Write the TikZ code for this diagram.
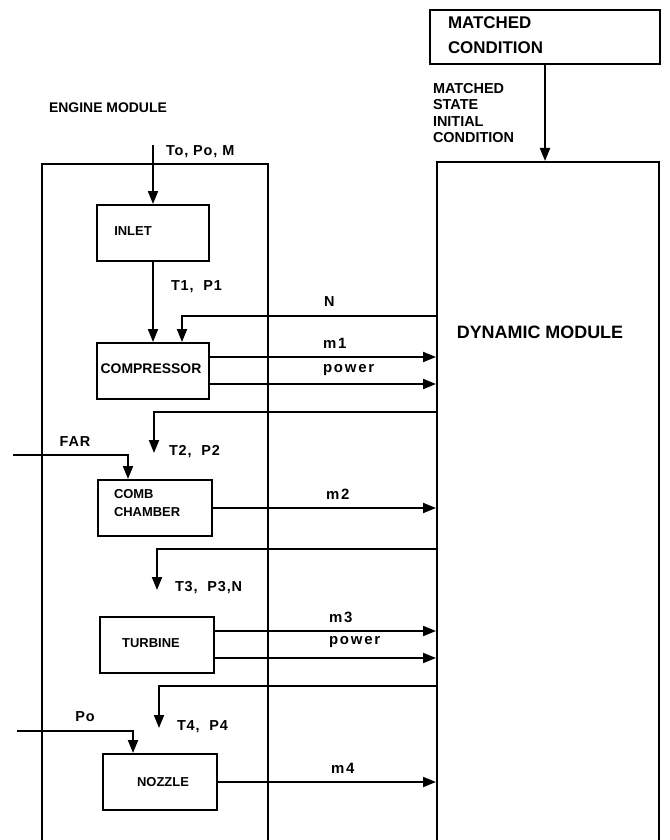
\documentclass[tikz,border=0pt]{standalone}
\usepackage{fontspec}
\setmainfont{Liberation Sans}
\newfontfamily\lblfont{Liberation Sans}[LetterSpace=6]
\newfontfamily\lowfont{Liberation Sans}[LetterSpace=12]
\usetikzlibrary{arrows.meta,calc}
\begin{document}
\begin{tikzpicture}[x=1bp,y=-1bp,
  line width=2bp,
  arr/.style={-{Triangle[length=13bp,width=10bp]}},
  blk/.style={draw,minimum width=114bp,minimum height=56bp,inner sep=0pt},
  btxt/.style={font=\bfseries\fontsize{13}{15}\selectfont,inner sep=0pt},
  lbl/.style={font=\lblfont\bfseries\fontsize{14.5}{17}\selectfont,inner sep=0pt,anchor=west},
  lowlbl/.style={font=\lowfont\bfseries\fontsize{15}{17}\selectfont,inner sep=0pt,anchor=west},
]
\useasboundingbox (0,0) rectangle (670,840);
\fill[white] (0,0) rectangle (670,840);

% big modules
\node[draw,minimum width=230bp,minimum height=54bp,inner sep=0pt] (mc) at (545,37) {};
\node[btxt,font=\bfseries\fontsize{17}{25}\selectfont,align=left,anchor=west] (mctxt) at (447,35) {MATCHED\\CONDITION};
\node[draw,minimum width=222bp,minimum height=688bp,inner sep=0pt] (dyn) at (548,506) {};
\node[btxt,font=\bfseries\fontsize{18}{20}\selectfont] (dyntxt) at (540,332) {DYNAMIC MODULE};
\node[btxt,align=left,anchor=west,font=\bfseries\fontsize{14.5}{16.3}\selectfont] (mstate) at (432,113) {MATCHED\\STATE\\INITIAL\\CONDITION};

\node[draw,minimum width=226bp,minimum height=686bp,inner sep=0pt] (eng) at (155,507) {};
\node[btxt,font=\bfseries\fontsize{14}{16}\selectfont] (engtxt) at (108,108) {ENGINE MODULE};

% component blocks
\node[blk,minimum width=112bp] (inlet) at (153,233) {};
\node[btxt] (inlettxt) at (133,231) {INLET};
\node[blk,minimum width=112bp] (comp) at (153,371) {};
\node[btxt,font=\bfseries\fontsize{14}{16}\selectfont] (comptxt) at (151,369) {COMPRESSOR};
\node[blk] (comb) at (155,508) {};
\node[btxt,align=left,anchor=west,font=\bfseries\fontsize{13}{19}\selectfont] (combtxt) at (113,503) {COMB\\CHAMBER};
\node[blk] (turb) at (157,645) {};
\node[btxt] (turbtxt) at (151,643) {TURBINE};
\node[blk] (noz) at (160,782) {};
\node[btxt] (noztxt) at (163,782) {NOZZLE};

% inlet flow
\coordinate (inflow) at (153,145);
\draw[arr] (inflow) -- (inlet.north);
\node[lbl] (l0) at (165,152) {To, Po, M};
\draw[arr] (inlet.south) -- (comp.north);
\node[lbl] (l1) at (170,287) {T1,~ P1};

% compressor
\coordinate (nin) at ([xshift=29bp]comp.north);
\coordinate (nrow) at (0,316);
\draw[arr] (nrow -| dyn.west) -| (nin);
\node[lbl] (lN) at (323,302) {N};
\coordinate (m1s) at ([yshift=14bp]comp.east);
\draw[arr] (m1s) -- (m1s -| dyn.west);
\node[lowlbl] (lm1) at (322,343) {m1};
\coordinate (p1s) at ([yshift=-13bp]comp.east);
\draw[arr] (p1s) -- (p1s -| dyn.west);
\node[lowlbl] (lp1) at (322,370) {power};

% to combustion chamber
\coordinate (f2) at (0,412);
\coordinate (t2) at (154,453);
\draw[arr] (f2 -| dyn.west) -| (t2);
\node[lbl] (l2) at (168,452) {T2,~ P2};
\coordinate (farin) at (13,455);
\coordinate (combin) at ([xshift=-27bp]comb.north);
\draw[arr] (farin) -| (combin);
\node[lbl,anchor=center] (lfar) at (75,442) {FAR};
\draw[arr] (comb.east) -- (comb.east -| dyn.west);
\node[lowlbl] (lm2) at (325,494) {m2};

% to turbine
\coordinate (f3) at (0,549);
\coordinate (t3) at (157,590);
\draw[arr] (f3 -| dyn.west) -| (t3);
\node[lbl] (l3) at (174,588) {T3,~ P3,N};
\coordinate (m3s) at ([yshift=14bp]turb.east);
\draw[arr] (m3s) -- (m3s -| dyn.west);
\node[lowlbl] (lm3) at (328,617) {m3};
\coordinate (p3s) at ([yshift=-13bp]turb.east);
\draw[arr] (p3s) -- (p3s -| dyn.west);
\node[lowlbl] (lp3) at (328,642) {power};

% to nozzle
\coordinate (f4) at (0,686);
\coordinate (t4) at (159,728);
\draw[arr] (f4 -| dyn.west) -| (t4);
\node[lbl] (l4) at (176,727) {T4,~ P4};
\coordinate (poin) at (17,731);
\coordinate (nozin) at ([xshift=-27bp]noz.north);
\draw[arr] (poin) -| (nozin);
\node[lbl,anchor=center] (lpo) at (85,717) {Po};
\draw[arr] (noz.east) -- (noz.east -| dyn.west);
\node[lowlbl] (lm4) at (330,768) {m4};

% matched condition
\draw[arr] (mc.south) -- (mc.south |- dyn.north);
\end{tikzpicture}
\end{document}
